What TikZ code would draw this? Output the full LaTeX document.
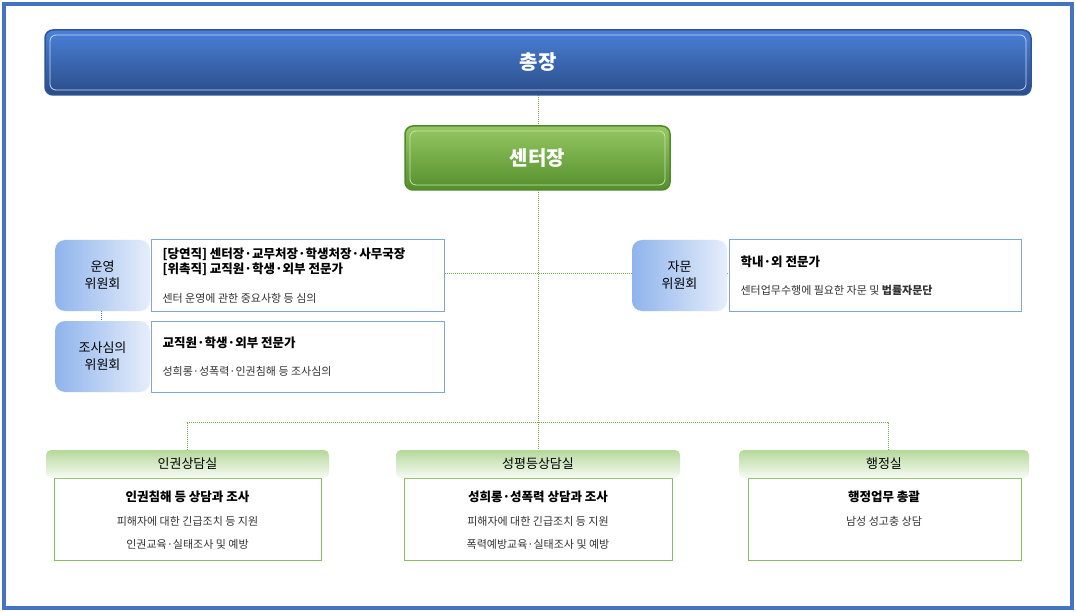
\documentclass[tikz,border=0pt]{standalone}
\usepackage{fontspec}
\setmainfont{Noto Sans CJK KR}
\usetikzlibrary{calc}
\definecolor{frameb}{HTML}{4472C4}
\definecolor{topb}{HTML}{2F5597}
\definecolor{topl}{HTML}{4A80D8}
\definecolor{gd}{HTML}{4E8A2A}
\definecolor{gl}{HTML}{7DBA3C}
\definecolor{pillb}{HTML}{8FB4EC}
\definecolor{pilll}{HTML}{E6EEFB}
\definecolor{boxb}{HTML}{7FA6DA}
\definecolor{gbox}{HTML}{8DBB64}
\definecolor{ghd}{HTML}{B5D89A}
\definecolor{dotg}{HTML}{70AD47}
\tikzset{
 pill/.style={rounded corners=10pt,left color=pillb,right color=pilll,draw=none,align=center,font=\fontsize{13}{17}\selectfont},
 infobox/.style={draw=boxb,line width=1pt,fill=white},
 ghead/.style={rounded corners=5pt,top color=ghd,bottom color=white!90!ghd,draw=none},
 gbx/.style={draw=gbox,line width=1pt,fill=white},
 conn/.style={dotg,densely dotted,line width=1pt},
}
\begin{document}
\begin{tikzpicture}[x=1pt,y=-1pt]
\useasboundingbox (0,0) rectangle (1076,612);
\fill[white] (0,0) rectangle (1076,612);
\draw[frameb,line width=4pt] (4,4) rectangle (1072,608);
% connectors
\coordinate (t1) at (538,95); \coordinate (t2) at (538,126);
\draw[conn] (t1)--(t2);
\coordinate (c1) at (538,190); \coordinate (c2) at (538,422);
\draw[conn] (c1)--(c2);
\coordinate (h1) at (445,274); \coordinate (h2) at (728,274);
\draw[conn] (h1)--(h2);
\coordinate (b1) at (187,422); \coordinate (b3) at (888,422);
\coordinate (d1) at (187,450); \coordinate (d2) at (538,450); \coordinate (d3) at (888,450);
\draw[conn] (d1)--(b1)--(b3)--(d3);
\draw[conn] (c2)--(d2);
\coordinate (v1) at (101,311); \coordinate (v2) at (101,321);
\draw[frameb,densely dotted,line width=1pt] (v1)--(v2);
% top
\node[draw=topb,line width=1.5pt,rounded corners=8pt,top color=topl,bottom color=topb!90!black,minimum width=986pt,minimum height=65pt,text=white,font=\bfseries\fontsize{20}{24}\selectfont] (pres) at (538,62.5) {총장};
\draw[white!70!topl,line width=0.8pt,rounded corners=6pt] (50,35) rectangle (1026,90);
\node[draw=gd,line width=1.5pt,rounded corners=8pt,top color=gl!80!white,bottom color=gd!90!gl,minimum width=265pt,minimum height=64pt,text=white,font=\bfseries\fontsize{20}{24}\selectfont] (dir) at (537.5,158) {센터장};
\draw[white!60!gl,line width=0.8pt,rounded corners=6pt] (410,131) rectangle (665,185);
% committees
\node[pill,minimum width=95pt,minimum height=71pt] (p1) at (102.5,275.5) {운영\\위원회};
\node[pill,minimum width=95pt,minimum height=71pt] (p2) at (102.5,356.5) {조사심의\\위원회};
\node[pill,minimum width=95pt,minimum height=71pt] (p3) at (679.5,275.5) {자문\\위원회};
\draw[infobox] (151,240) rectangle (444,311);
\draw[infobox] (151,321) rectangle (444,392);
\draw[infobox] (729,240) rectangle (1021,311);
\node[anchor=west,align=left,font=\bfseries\fontsize{12.5}{15.5}\selectfont] (t11) at (159,262) {{[당연직]} 센터장·교무처장·학생처장·사무국장\\{}{[위촉직]} 교직원·학생·외부 전문가};
\node[anchor=west,font=\fontsize{11}{13}\selectfont,text=black!80] (t12) at (159,298) {센터 운영에 관한 중요사항 등 심의};
\node[anchor=west,font=\bfseries\fontsize{12.5}{15}\selectfont] (t21) at (159,343) {교직원·학생·외부 전문가};
\node[anchor=west,font=\fontsize{11}{13}\selectfont,text=black!80] (t22) at (159,371) {성희롱·성폭력·인권침해 등 조사심의};
\node[anchor=west,font=\bfseries\fontsize{12.5}{15}\selectfont] (t31) at (737,262) {학내·외 전문가};
\node[anchor=west,font=\fontsize{11}{13}\selectfont,text=black!80] (t32) at (737,290) {센터업무수행에 필요한 자문 및 \textbf{법률자문단}};
% bottom
\foreach \n/\hx/\hw/\bx/\bw/\ti/\a/\b/\c in {
 l/46/283/54/267/인권상담실/인권침해 등 상담과 조사/피해자에 대한 긴급조치 등 지원/인권교육·실태조사 및 예방,
 m/396/284/404/268/성평등상담실/성희롱·성폭력 상담과 조사/피해자에 대한 긴급조치 등 지원/폭력예방교육·실태조사 및 예방}{
 \draw[gbx] (\bx,478) rectangle (\bx+\bw,560);
 \node[ghead,minimum width=\hw pt,minimum height=28pt,font=\fontsize{13}{15}\selectfont] (h\n) at (\hx+\hw/2,464) {\ti};
 \node[font=\bfseries\fontsize{12.5}{15}\selectfont] (x\n) at (\hx+\hw/2,497) {\a};
 \node[font=\fontsize{11}{13}\selectfont,text=black!80] (y\n) at (\hx+\hw/2,521) {\b};
 \node[font=\fontsize{11}{13}\selectfont,text=black!80] (z\n) at (\hx+\hw/2,544) {\c};
}
\draw[gbx] (748,478) rectangle (1021,560);
\node[ghead,minimum width=290pt,minimum height=28pt,font=\fontsize{13}{15}\selectfont] (hr) at (884,464) {행정실};
\node[font=\bfseries\fontsize{12.5}{15}\selectfont] (xr) at (884,497) {행정업무 총괄};
\node[font=\fontsize{11}{13}\selectfont,text=black!80] (yr) at (884,521) {남성 성고충 상담};
\end{tikzpicture}
\end{document}
